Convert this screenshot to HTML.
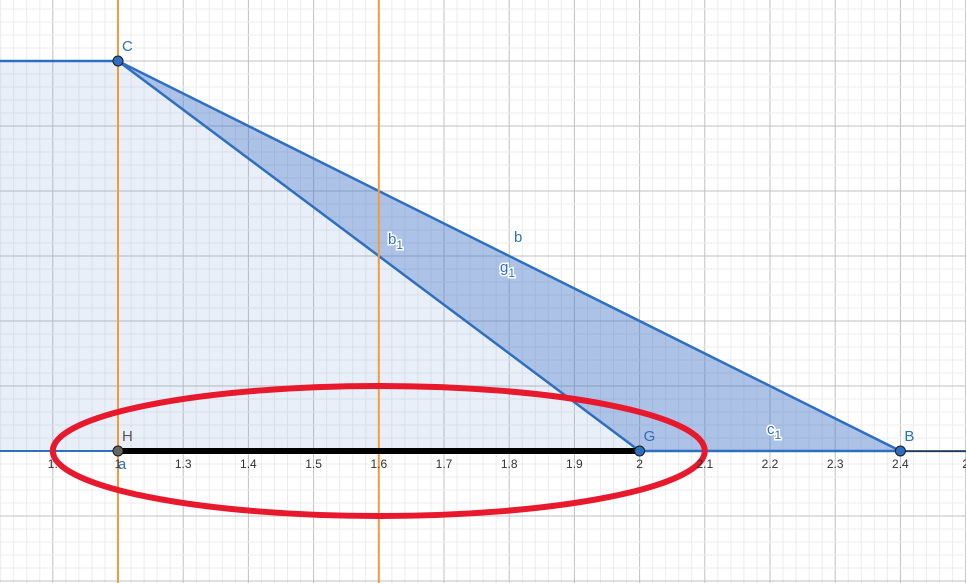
<!DOCTYPE html>
<html><head><meta charset="utf-8"><style>
html,body{margin:0;padding:0;background:#fff;}
svg{display:block;font-family:"Liberation Sans",sans-serif;}
</style></head><body>
<svg id="chart" width="966" height="583" viewBox="0 0 966 583">
<g id="grid"></g>
<g id="shapes"></g>
<g id="labels"></g>
</svg>
<script>
const xTicks=[1.1,1.2,1.3,1.4,1.5,1.6,1.7,1.8,1.9,2,2.1,2.2,2.3,2.4,2.5];
const xTickLabels=["1.","1","1.3","1.4","1.5","1.6","1.7","1.8","1.9","2","2.1","2.2","2.3","2.4","2"];
const pointNames=["C","H","G","B"];
const pointX=[1.2,1.2,2.0,2.4];
const pointY=[0.6,0,0,0];
const verticalLinesX=[1.2,1.6];
const ellipseCenter=[1.6,0];
const ellipseRadii=[0.5,0.1];
const NS="http://www.w3.org/2000/svg";
const sx=x=>118+(x-1.2)*652;
const sy=y=>451-y*650;
function mk(tag,attrs,parent){const e=document.createElementNS(NS,tag);for(const k in attrs)e.setAttribute(k,attrs[k]);parent.appendChild(e);return e;}
const grid=document.getElementById('grid'),shapes=document.getElementById('shapes'),labels=document.getElementById('labels');
// minor grid
for(let i=-60;i<80;i++){const x=sx(1.2+i*0.02);if(x<0||x>966)continue;const l=mk('line',{x1:x,y1:0,x2:x,y2:583,stroke:i%5===0?'#c0c0c0':'#ececec','stroke-width':1},grid);

}
for(let i=-20;i<50;i++){const y=sy(i*0.02);if(y<0||y>583)continue;const l=mk('line',{x1:0,y1:y,x2:966,y2:y,stroke:i%5===0?'#c0c0c0':'#ececec','stroke-width':1},grid);

}
const C=[sx(pointX[0]),sy(pointY[0])],H=[sx(pointX[1]),sy(pointY[1])],G=[sx(pointX[2]),sy(pointY[2])],B=[sx(pointX[3]),sy(pointY[3])];
let p=mk('polygon',{points:`0,${C[1]} ${C[0]},${C[1]} ${G[0]},${G[1]} 0,${G[1]}`,fill:'rgba(120,160,220,0.17)',stroke:'none'},shapes);


let t=mk('polygon',{points:`${C[0]},${C[1]} ${B[0]},${B[1]} ${G[0]},${G[1]}`,fill:'rgba(70,120,200,0.45)',stroke:'#2f6fc0','stroke-width':2.5,'stroke-linejoin':'round'},shapes);


let tl=mk('line',{x1:0,y1:C[1],x2:C[0],y2:C[1],stroke:'#2f6fc0','stroke-width':2.5},shapes);


// x axis
let ax=mk('line',{x1:0,y1:451,x2:966,y2:451,stroke:'#2f6fc0','stroke-width':2},shapes);


let ax2=mk('line',{x1:B[0],y1:451.5,x2:966,y2:451.5,stroke:'#333','stroke-width':1.2},shapes);


verticalLinesX.forEach(v=>{const l=mk('line',{x1:sx(v),y1:0,x2:sx(v),y2:583,stroke:'#f39a3a','stroke-width':2},shapes);

});
let seg=mk('line',{x1:H[0],y1:H[1],x2:G[0],y2:G[1],stroke:'#000','stroke-width':6},shapes);


let el=mk('ellipse',{cx:sx(ellipseCenter[0]),cy:sy(ellipseCenter[1]),rx:ellipseRadii[0]*652,ry:ellipseRadii[1]*650,fill:'none',stroke:'#e8192c','stroke-width':6},shapes);


xTicks.forEach((v,i)=>{const tx=mk('text',{x:sx(v),y:468,'font-size':12,fill:'#333','text-anchor':'middle'},labels);tx.textContent=xTickLabels[i];

});
const a=mk('text',{x:sx(1.2)+4,y:469,'font-size':15,fill:'#2f6fc0','text-anchor':'middle'},labels);a.textContent='a';


pointNames.forEach((n,i)=>{const px=sx(pointX[i]),py=sy(pointY[i]);
const c=mk('circle',{cx:px,cy:py,r:5,fill:n==='H'?'#666':'#2f6fc0',stroke:'#1a1a1a','stroke-width':1},shapes);


const tx=mk('text',{x:px+4,y:py-10,'font-size':15,fill:n==='H'?'#555':'#2f6fc0'},labels);tx.textContent=n;

});
function lab(txt,sub,x,y,name){const tx=mk('text',{x:x,y:y,'font-size':15,fill:'#2f6fc0',stroke:'#fff','stroke-width':3,'paint-order':'stroke'},labels);
tx.textContent=txt;
if(sub){const s=mk('tspan',{dy:5,'font-size':12},tx);s.textContent=sub;}

}
lab('b','',514,242,'label-b');
lab('b','1',388,244,'label-b1');
lab('g','1',500,272,'label-g1');
lab('c','1',767,434,'label-c1');
</script>
</body></html>
